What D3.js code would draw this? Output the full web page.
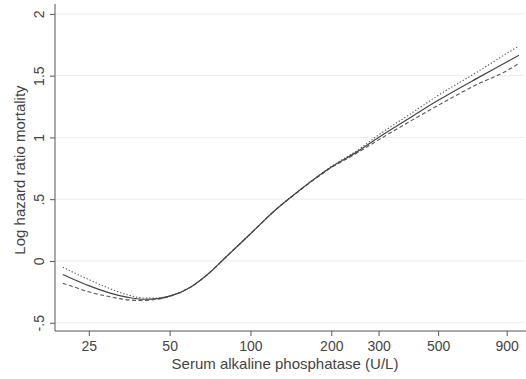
<!DOCTYPE html>
<html><head><meta charset="utf-8">
<script src="https://cdn.jsdelivr.net/npm/d3@7"></script>
<style>body{margin:0;background:#fff}svg{display:block}text{font-family:"Liberation Sans",Arial,sans-serif}</style>
</head><body><svg id="c" width="526" height="379"></svg>
<script>
const alp = [20,22,25,30,35,40,45,50,60,70,80,100,125,150,200,250,300,400,500,700,900,1000];
const logHR = [-0.11,-0.15,-0.20,-0.26,-0.295,-0.31,-0.305,-0.285,-0.21,-0.10,0.02,0.22,0.42,0.56,0.76,0.885,1.00,1.17,1.30,1.48,1.61,1.665];
const upper = [-0.05,-0.095,-0.15,-0.225,-0.275,-0.30,-0.30,-0.283,-0.21,-0.10,0.02,0.22,0.42,0.562,0.765,0.895,1.02,1.20,1.34,1.53,1.68,1.74];
const lower = [-0.18,-0.21,-0.25,-0.29,-0.315,-0.32,-0.31,-0.287,-0.21,-0.10,0.02,0.22,0.42,0.558,0.755,0.875,0.98,1.14,1.26,1.43,1.54,1.60];
const xTicks = [25,50,100,200,300,500,900];
const yTicks = [-0.5,0,0.5,1,1.5,2];
const yTickLabels = ["-.5","0",".5","1","1.5","2"];

const svg = d3.select("#c");
const x = d3.scaleLog().domain([18.71,1044]).range([55,524]);
const y = d3.scaleLinear().domain([-0.567,2.08]).range([331,4]);
const axisCol = "#555", textCol = "#444";

// gridlines
svg.append("g").selectAll("line").data(yTicks).join("line")
  .attr("x1",x.range()[0]+1).attr("x2",x.range()[1])
  .attr("y1",d=>y(d)).attr("y2",d=>y(d))
  .attr("stroke","#ebebeb").attr("stroke-width",1);

// y axis
const gy = svg.append("g").attr("transform",`translate(${x.range()[0]},0)`)
  .call(d3.axisLeft(y).tickValues(yTicks).tickSize(5).tickFormat((d,i)=>yTickLabels[i]));
gy.select(".domain").attr("stroke",axisCol).attr("d",`M0,${y.range()[1]}V${y.range()[0]}`);
gy.selectAll(".tick line").attr("stroke",axisCol);
gy.selectAll(".tick text").attr("fill",textCol).style("font-size","14px")
  .attr("transform","rotate(-90)").attr("x",0).attr("y",-11).attr("dy",0)
  .attr("text-anchor","middle");

// x axis
const gx = svg.append("g").attr("transform",`translate(0,${y.range()[0]})`)
  .call(d3.axisBottom(x).tickValues(xTicks).tickSize(5).tickFormat(d3.format("d")));
gx.select(".domain").attr("stroke",axisCol).attr("d",`M${x.range()[0]},0H${x.range()[1]+2}`);
gx.selectAll(".tick line").attr("stroke",axisCol);
gx.selectAll(".tick text").attr("fill",textCol).style("font-size","14px").attr("y",10);

// axis titles
svg.append("text").attr("x",285).attr("y",369)
  .attr("text-anchor","middle").attr("fill",textCol).style("font-size","15px")
  .text("Serum alkaline phosphatase (U/L)");
svg.append("text").attr("transform","translate(25,170) rotate(-90)")
  .attr("text-anchor","middle").attr("fill",textCol).style("font-size","15px")
  .text("Log hazard ratio mortality");

const line = vals => d3.line().x((d,i)=>x(alp[i])).y(d=>y(d)).curve(d3.curveMonotoneX)(vals);
svg.append("path").attr("d",line(upper)).attr("fill","none").attr("stroke","#555")
  .attr("stroke-width",1.1).attr("stroke-dasharray","1.3,2");
svg.append("path").attr("d",line(lower)).attr("fill","none").attr("stroke","#555")
  .attr("stroke-width",1.1).attr("stroke-dasharray","4,2.5");
svg.append("path").attr("d",line(logHR)).attr("fill","none").attr("stroke","#444")
  .attr("stroke-width",1.2);
</script></body></html>
